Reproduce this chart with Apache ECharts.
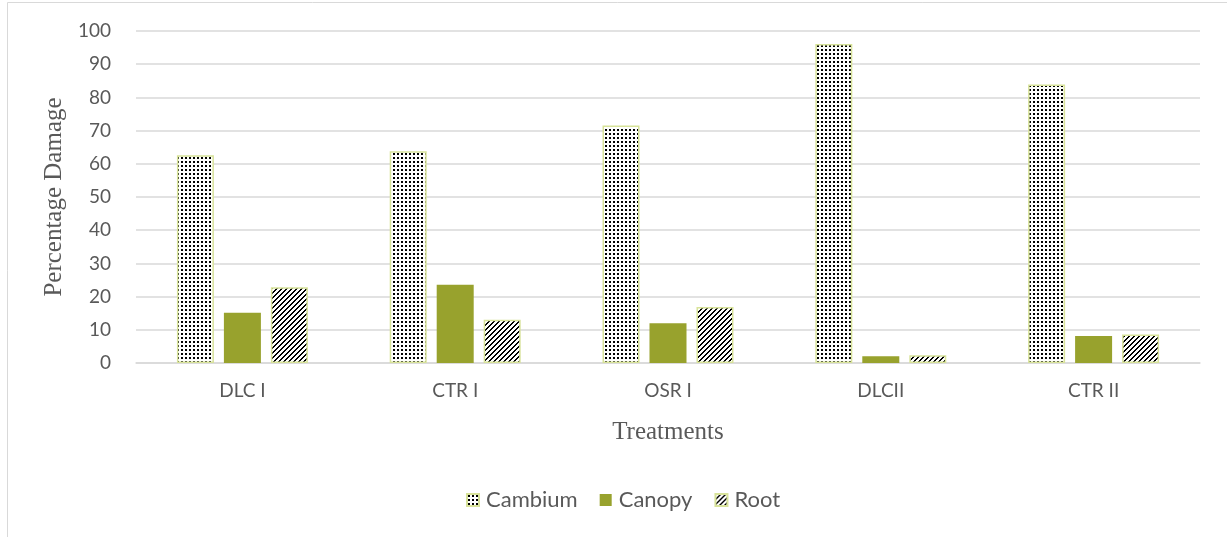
<!DOCTYPE html>
<html>
<head>
<meta charset="utf-8">
<script src="https://cdn.jsdelivr.net/npm/echarts@6/dist/echarts.min.js"></script>
<style>
html,body{margin:0;padding:0;background:#fff;}
#chart{width:1227px;height:537px;}
</style>
</head>
<body>
<div id="chart"></div>
<script>
const categories = ['DLC I', 'CTR I', 'OSR I', 'DLCII', 'CTR II'];
const cambium = [62.6, 63.8, 71.5, 96.1, 83.9];
const canopy = [15.1, 23.6, 12.0, 2.0, 8.1];
const root = [22.8, 13.0, 16.9, 2.3, 8.6];
const yTicks = [0, 10, 20, 30, 40, 50, 60, 70, 80, 90, 100];

function dotPattern() {
  const c = document.createElement('canvas');
  c.width = 4; c.height = 4;
  const ctx = c.getContext('2d');
  ctx.fillStyle = '#fff'; ctx.fillRect(0, 0, 4, 4);
  ctx.fillStyle = '#000';
  ctx.fillRect(1, 1, 2, 2);
  return c;
}
function stripePattern() {
  const n = 5;
  const c = document.createElement('canvas');
  c.width = n; c.height = n;
  const ctx = c.getContext('2d');
  ctx.fillStyle = '#fff'; ctx.fillRect(0, 0, n, n);
  ctx.fillStyle = '#000';
  for (let i = 0; i < n; i++) {
    ctx.fillRect(i, n - 1 - i, 1, 1);
    ctx.fillRect((i + 1) % n, n - 1 - i, 1, 1);
  }
  return c;
}

const serif = '"Liberation Serif", "DejaVu Serif", serif';
const sans = 'Lato, "Noto Sans", sans-serif';
const borderCol = '#d8e39a';
const canopyCol = '#98a22d';

const chart = echarts.init(document.getElementById('chart'), null, {renderer: 'canvas'});
chart.setOption({
  animation: false,
  backgroundColor: '#fff',
  graphic: [{
    type: 'rect', shape: {x: 7.5, y: 2.5, width: 1240, height: 560},
    style: {fill: 'none', stroke: '#d9d9d9', lineWidth: 1}, silent: true, z: -1
  }],
  grid: {left: 136, right: 27, top: 31, bottom: 174},
  legend: {
    bottom: 26,
    left: 466,
    padding: 0,
    itemWidth: 12, itemHeight: 12, itemGap: 22,
    icon: 'rect',
    textStyle: {fontFamily: sans, fontSize: 22, color: '#595959', padding: [0, 0, 0, 2]},
    data: ['Cambium', 'Canopy', 'Root']
  },
  xAxis: {
    type: 'category',
    data: categories,
    name: 'Treatments',
    nameLocation: 'middle',
    nameGap: 57,
    nameTextStyle: {fontFamily: serif, fontSize: 25, color: '#595959'},
    axisLine: {lineStyle: {color: '#d9d9d9', width: 1.5}},
    axisTick: {show: false},
    axisLabel: {fontFamily: sans, fontSize: 19, color: '#595959', margin: 18}
  },
  yAxis: {
    type: 'value',
    min: yTicks[0], max: yTicks[yTicks.length - 1], interval: 10,
    name: 'Percentage Damage',
    nameLocation: 'middle',
    nameGap: 63,
    nameTextStyle: {fontFamily: serif, fontSize: 25, color: '#595959'},
    axisLine: {show: false},
    axisTick: {show: false},
    splitLine: {lineStyle: {color: '#d9d9d9', width: 1.5}},
    axisLabel: {fontFamily: sans, fontSize: 19, color: '#595959', margin: 25}
  },
  series: [
    {
      name: 'Cambium', type: 'bar', data: cambium,
      barWidth: 37, barGap: '27%',
      itemStyle: {color: {image: dotPattern(), repeat: 'repeat'}, borderColor: borderCol, borderWidth: 1.5}
    },
    {
      name: 'Canopy', type: 'bar', data: canopy,
      barWidth: 37, barGap: '27%',
      itemStyle: {color: canopyCol}
    },
    {
      name: 'Root', type: 'bar', data: root,
      barWidth: 37, barGap: '27%',
      itemStyle: {color: {image: stripePattern(), repeat: 'repeat'}, borderColor: borderCol, borderWidth: 1.5}
    }
  ]
});
</script>
</body>
</html>
